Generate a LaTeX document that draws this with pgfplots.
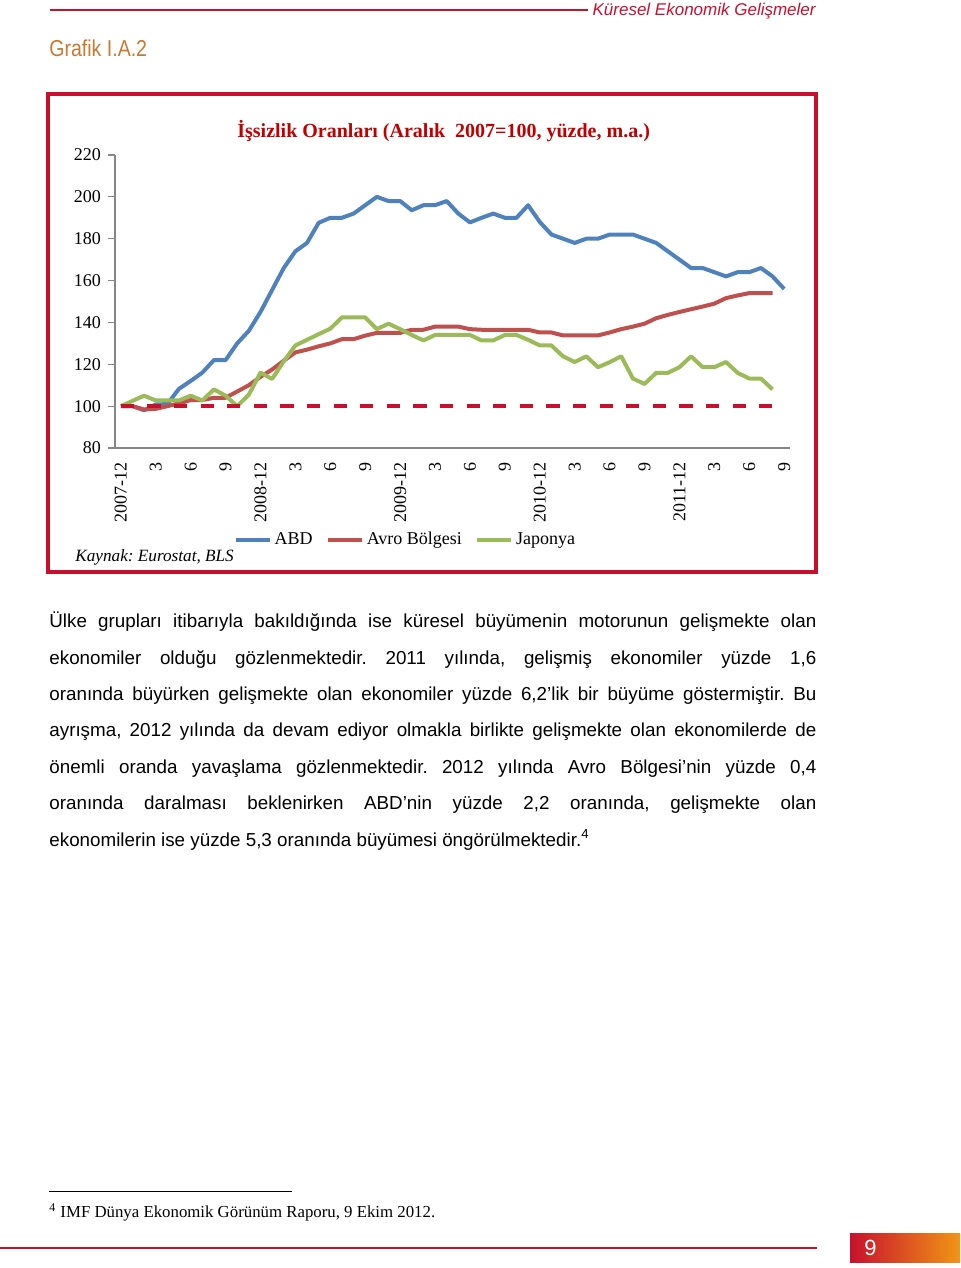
\documentclass[border=0pt]{standalone}
\usepackage{fontspec}
\setmainfont{Liberation Serif}
\newfontfamily\sansfont{Liberation Sans}
\usepackage{pgfplots}
\pgfplotsset{compat=1.18}
\usepackage{pgfplotstable}
\frenchspacing

\definecolor{crimson}{RGB}{200,16,46}
\definecolor{titlered}{RGB}{192,0,0}
\definecolor{grafik}{RGB}{200,120,50}
\definecolor{abd}{RGB}{79,129,189}
\definecolor{avro}{RGB}{192,80,77}
\definecolor{jap}{RGB}{155,187,89}
\definecolor{axgray}{RGB}{134,134,134}
\definecolor{pgorange}{RGB}{240,150,20}

% month index (0 = 2007-12), 2007-12 = 100
\pgfplotstableread{
i  abd    avro   jap
0  100    100    100
1  100    100    102.5
2  98     98.4   105
3  100.8  98.7   102.7
4  101    100    102.7
5  108.3  101.3  102.7
6  112    102.9  105
7  116    102.9  102.7
8  122    104    108
9  122    104    105
10 130    107    100
11 136    110    105.5
12 145    114    116
13 155.5  117.5  113
14 166    121.7  121.4
15 174    125.7  129
16 178    127    131.7
17 187.6  128.6  134.4
18 190    130    137
19 190    132    142.4
20 192    132    142.4
21 196    133.7  142.4
22 200    135    136.8
23 198    135    139.4
24 198    135    136.8
25 193.6  136.5  134
26 196    136.5  131.4
27 196    138    134
28 198    138    134
29 192    138    134
30 187.8  136.8  134
31 190    136.5  131.4
32 192    136.5  131.4
33 190    136.5  134
34 190    136.5  134
35 196    136.5  131.7
36 188    135.2  129
37 182    135.2  129
38 180    133.8  123.8
39 178    133.8  121.1
40 180    133.8  123.8
41 180    133.8  118.6
42 182    135.2  121
43 182    136.8  123.8
44 182    138    113.2
45 180    139.4  110.6
46 178    142    115.9
47 174    143.6  115.9
48 170    145    118.6
49 166    146.3  123.8
50 166    147.6  118.6
51 164    149    118.6
52 162    151.6  121.1
53 164    152.9  115.9
54 164    154    113.2
55 166    154    113.2
56 162    154    108
57 156    nan    nan
}\unemp

\newcommand{\bodyline}[2]{\node[anchor=base west, inner sep=0pt] at (49,#1)
  {\sansfont\fontsize{9.4}{11}\selectfont\makebox[383.5pt][s]{#2}};}

\begin{document}
\begin{tikzpicture}
\begin{scope}[x=0.5pt,y=-0.5pt]
\path[use as bounding box] (0,0) rectangle (960,1268);
% page header
\draw[crimson, line width=1pt] (50,10) -- (588,10);
\node[anchor=east, inner sep=0pt, text=crimson] at (816,11)
  {\sansfont\itshape\fontsize{8.5}{10}\selectfont Küresel Ekonomik Gelişmeler};
\node[anchor=west, inner sep=0pt, text=grafik, xscale=0.85] at (49,48)
  {\sansfont\fontsize{11.5}{13}\selectfont Grafik I.A.2};
% chart frame and texts
\draw[crimson, line width=2pt] (48,94) rectangle (816,572);
\node[anchor=west, inner sep=0pt, text=titlered] at (237,131)
  {\bfseries\fontsize{10}{12}\selectfont İşsizlik Oranları (Aralık\ \ 2007=100, yüzde, m.a.)};
\node[anchor=west, inner sep=0pt] at (75,557)
  {\itshape\fontsize{8.6}{11}\selectfont Kaynak: Eurostat, BLS};
% body text
\bodyline{627}{Ülke grupları itibarıyla bakıldığında ise küresel büyümenin motorunun gelişmekte olan}
\bodyline{664}{ekonomiler olduğu gözlenmektedir. 2011 yılında, gelişmiş ekonomiler yüzde 1,6}
\bodyline{700}{oranında büyürken gelişmekte olan ekonomiler yüzde 6,2’lik bir büyüme göstermiştir. Bu}
\bodyline{736}{ayrışma, 2012 yılında da devam ediyor olmakla birlikte gelişmekte olan ekonomilerde de}
\bodyline{773}{önemli oranda yavaşlama gözlenmektedir. 2012 yılında Avro Bölgesi’nin yüzde 0,4}
\bodyline{809}{oranında daralması beklenirken ABD’nin yüzde 2,2 oranında, gelişmekte olan}
\node[anchor=base west, inner sep=0pt] at (49,846)
  {\sansfont\fontsize{9.4}{11}\selectfont ekonomilerin ise yüzde 5,3 oranında büyümesi öngörülmektedir.\textsuperscript{4}};
% footnote
\draw[black, line width=0.5pt] (49,1191) -- (292,1191);
\node[anchor=base west, inner sep=0pt] at (49,1217)
  {\fontsize{8.4}{10}\selectfont\textsuperscript{4} IMF Dünya Ekonomik Görünüm Raporu, 9 Ekim 2012.};
% page footer
\draw[crimson, line width=1pt] (0,1248) -- (817,1248);
\shade[left color=crimson, right color=pgorange] (850,1233) rectangle (960,1262);
\node[anchor=west, inner sep=0pt, text=white] at (864,1248)
  {\sansfont\fontsize{11}{12}\selectfont 9};
\end{scope}

\begin{axis}[
    at={(57.5pt,-224pt)}, anchor=south west,
    scale only axis, width=337.5pt, height=146.5pt,
    xmin=-0.5, xmax=57.5, ymin=80, ymax=220,
    axis x line=bottom, axis y line=left,
    axis line style={axgray, line width=0.6pt, -},
    ytick={80,100,...,220},
    xtick={0,3,...,57},
    xticklabels={2007-12,3,6,9,2008-12,3,6,9,2009-12,3,6,9,2010-12,3,6,9,2011-12,3,6,9},
    x tick label style={rotate=90, anchor=east, font=\fontsize{9}{10}\selectfont},
    y tick label style={font=\fontsize{9}{10}\selectfont},
    /pgf/number format/assume math mode=true,
    tick align=outside,
    major tick length=3.5pt,
    ytick style={axgray, line width=0.6pt},
    xtick style={draw=none},
    legend style={draw=none, fill=none, at={(0.175,-0.314)}, anchor=west,
      font=\fontsize{9}{10}\selectfont, inner sep=0pt,
      nodes={inner xsep=1.5pt}},
    legend columns=-1,
    /tikz/every even column/.append style={column sep=5pt},
    every axis plot/.append style={line width=2pt, line join=round},
  ]
\addplot[abd] table[x=i, y=abd] {\unemp};
\addplot[avro] table[x=i, y=avro] {\unemp};
\addplot[jap] table[x=i, y=jap] {\unemp};
\addplot[crimson, line width=2.2pt, dash pattern=on 6.6pt off 6.7pt, forget plot]
  coordinates {(0,100) (57,100)};
\legend{ABD, Avro Bölgesi, Japonya}
\end{axis}
\end{tikzpicture}
\end{document}
